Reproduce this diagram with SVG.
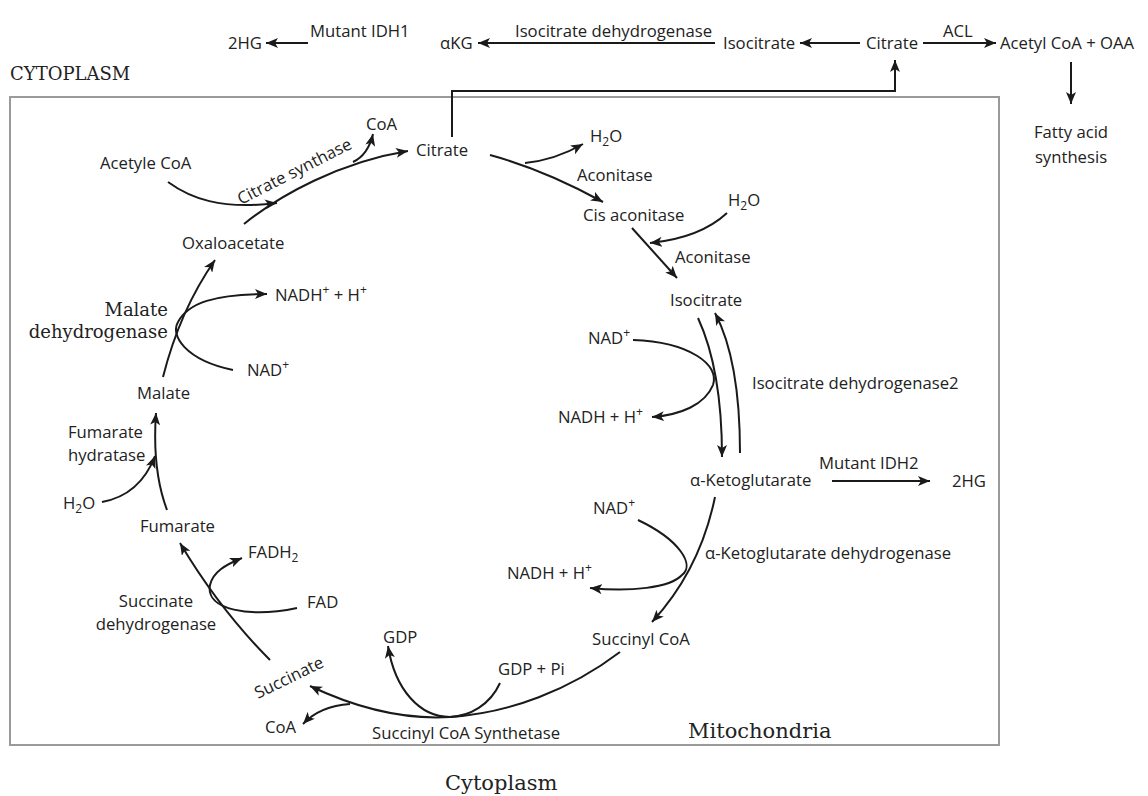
<svg xmlns="http://www.w3.org/2000/svg" width="1148" height="796" viewBox="0 0 1148 796">
  <style>
    .t { font-family: "Open Sans", "Liberation Sans", sans-serif; font-size: 16.7px; fill: #222; }
    .s { font-family: "DejaVu Serif", "Liberation Serif", serif; fill: #222; }
    .ln { fill: none; stroke: #1a1a1a; stroke-width: 2; }
    .arr { marker-end: url(#ah); }
    .sub { font-size: 12px; }
  </style>
  <defs>
    <marker id="ah" markerUnits="userSpaceOnUse" viewBox="0 0 12 10" refX="12" refY="5" markerWidth="12" markerHeight="10" orient="auto">
      <path d="M0,0 L12,5 L0,10 L3,5 z" fill="#1a1a1a"/>
    </marker>
  </defs>
  <rect width="1148" height="796" fill="#fff"/>

  <!-- mitochondrial compartment -->
  <rect id="mitochondria-box" x="10" y="97" width="989" height="648" fill="none" stroke="#9a9a9a" stroke-width="2"/>

  <!-- region labels -->
  <text class="s" x="10" y="80" font-size="18">CYTOPLASM</text>
  <text class="s" x="688" y="738" font-size="21">Mitochondria</text>
  <text class="s" x="445" y="790" font-size="21">Cytoplasm</text>

  <!-- connectors -->
  <g id="connectors">
    <path class="ln arr" d="M308,43 L266,43"/>
    <path class="ln arr" d="M715,43 L478,43"/>
    <path class="ln arr" d="M860,43 L800,43"/>
    <path class="ln arr" d="M923,43 L996,43"/>
    <path class="ln arr" d="M1071,62 L1071,104"/>
    <path class="ln arr" d="M452,137 L452,91 L895,91 L895,60"/>

    <!-- citrate synthase -->
    <path class="ln arr" d="M244,224 C280,195 340,162 408,151"/>
    <path class="ln arr" d="M168,182 C190,198 220,210 277,203"/>
    <path class="ln arr" d="M353,162 Q368,155 373,134"/>

    <!-- aconitase steps -->
    <path class="ln arr" d="M490,155 Q545,170 603,202"/>
    <path class="ln arr" d="M525,163 Q555,160 583,144"/>
    <path class="ln arr" d="M632,228 L677,278"/>
    <path class="ln arr" d="M727,213 Q700,238 650,243"/>

    <!-- isocitrate dehydrogenase -->
    <path class="ln arr" d="M698,318 Q722,370 722,457"/>
    <path class="ln arr" d="M740,453 Q740,360 715,313"/>
    <path class="ln arr" d="M633,340 C690,342 720,365 713,385 C705,405 680,415 652,417"/>

    <!-- mutant IDH2 -->
    <path class="ln arr" d="M832,481 L930,481"/>

    <!-- alpha-ketoglutarate dehydrogenase -->
    <path class="ln arr" d="M715,497 Q700,570 652,622"/>
    <path class="ln arr" d="M638,520 C680,540 695,565 682,575 C670,588 630,592 590,588"/>

    <!-- succinyl CoA synthetase -->
    <path class="ln arr" d="M620,652 C570,690 510,713 450,717 C400,720 350,705 310,686"/>
    <path class="ln arr" d="M500,683 C490,705 470,716 450,717 C420,717 395,690 388,646"/>
    <path class="ln arr" d="M350,704 Q320,706 303,724"/>

    <!-- succinate dehydrogenase -->
    <path class="ln arr" d="M270,660 Q220,610 180,543"/>
    <path class="ln arr" d="M297,608 C250,618 205,610 210,585 C213,572 225,565 242,558"/>

    <!-- fumarate hydratase -->
    <path class="ln arr" d="M167,510 Q152,470 156,413"/>
    <path class="ln arr" d="M102,502 Q140,495 155,456"/>

    <!-- malate dehydrogenase -->
    <path class="ln arr" d="M163,377 Q180,310 215,260"/>
    <path class="ln arr" d="M233,370 C185,360 170,335 178,322 C188,303 215,294 267,294"/>
  </g>

  <!-- cytoplasmic nodes -->
  <g id="n-2hg-top"><text class="t" x="228" y="49">2HG</text></g>
  <g id="l-mutant-idh1"><text class="t" x="310" y="37">Mutant IDH1</text></g>
  <g id="n-akg-top"><text class="t" x="440" y="49">αKG</text></g>
  <g id="l-idh-top"><text class="t" x="515" y="37">Isocitrate dehydrogenase</text></g>
  <g id="n-isocitrate-top"><text class="t" x="723" y="49">Isocitrate</text></g>
  <g id="n-citrate-top"><text class="t" x="866" y="49">Citrate</text></g>
  <g id="l-acl"><text class="t" x="943" y="37">ACL</text></g>
  <g id="n-acetylcoa-oaa"><text class="t" x="1000" y="49">Acetyl CoA + OAA</text></g>
  <g id="n-fatty-acid"><text class="t" x="1071" y="138" text-anchor="middle">Fatty acid</text><text class="t" x="1071" y="163" text-anchor="middle">synthesis</text></g>

  <!-- mitochondrial nodes -->
  <g id="n-coa-1"><text class="t" x="366" y="130">CoA</text></g>
  <g id="n-citrate"><text class="t" x="416" y="156">Citrate</text></g>
  <g id="n-acetyle-coa"><text class="t" x="100" y="169">Acetyle CoA</text></g>
  <g id="l-citrate-synthase"><text class="t" transform="translate(241,205) rotate(-27)">Citrate synthase</text></g>
  <g id="n-oxaloacetate"><text class="t" x="182" y="249">Oxaloacetate</text></g>
  <g id="n-nadh-h-1"><text class="t" x="275" y="301">NADH<tspan class="sub" dy="-7">+</tspan><tspan dy="7"> + H</tspan><tspan class="sub" dy="-7">+</tspan></text></g>
  <g id="l-malate-dh"><text class="s" x="168" y="316" font-size="18" text-anchor="end">Malate</text><text class="s" x="168" y="338" font-size="18" text-anchor="end">dehydrogenase</text></g>
  <g id="n-nad-1"><text class="t" x="247" y="376">NAD<tspan class="sub" dy="-7">+</tspan></text></g>
  <g id="n-malate"><text class="t" x="137" y="399">Malate</text></g>
  <g id="l-fumarate-hydratase"><text class="t" x="68" y="438">Fumarate</text><text class="t" x="68" y="461">hydratase</text></g>
  <g id="n-h2o-3"><text class="t" x="63" y="509">H<tspan class="sub" dy="4">2</tspan><tspan dy="-4">O</tspan></text></g>
  <g id="n-fumarate"><text class="t" x="140" y="532">Fumarate</text></g>
  <g id="n-fadh2"><text class="t" x="248" y="558">FADH<tspan class="sub" dy="4">2</tspan></text></g>
  <g id="n-fad"><text class="t" x="307" y="608">FAD</text></g>
  <g id="l-succinate-dh"><text class="t" x="156" y="607" text-anchor="middle">Succinate</text><text class="t" x="156" y="630" text-anchor="middle">dehydrogenase</text></g>
  <g id="n-succinate"><text class="t" transform="translate(258,699) rotate(-26)">Succinate</text></g>
  <g id="n-coa-2"><text class="t" x="265" y="733">CoA</text></g>
  <g id="n-gdp"><text class="t" x="383" y="643">GDP</text></g>
  <g id="n-gdp-pi"><text class="t" x="498" y="675">GDP + Pi</text></g>
  <g id="l-succinyl-coa-synthetase"><text class="t" x="372" y="739">Succinyl CoA Synthetase</text></g>
  <g id="n-succinyl-coa"><text class="t" x="592" y="645">Succinyl CoA</text></g>
  <g id="n-nadh-h-3"><text class="t" x="507" y="579">NADH + H<tspan class="sub" dy="-7">+</tspan></text></g>
  <g id="n-nad-3"><text class="t" x="593" y="514">NAD<tspan class="sub" dy="-7">+</tspan></text></g>
  <g id="l-akg-dh"><text class="t" x="705" y="559">α-Ketoglutarate dehydrogenase</text></g>
  <g id="n-akg"><text class="t" x="690" y="486">α-Ketoglutarate</text></g>
  <g id="l-mutant-idh2"><text class="t" x="819" y="469">Mutant IDH2</text></g>
  <g id="n-2hg"><text class="t" x="952" y="487">2HG</text></g>
  <g id="l-idh2"><text class="t" x="752" y="389">Isocitrate dehydrogenase2</text></g>
  <g id="n-nadh-h-2"><text class="t" x="558" y="423">NADH + H<tspan class="sub" dy="-7">+</tspan></text></g>
  <g id="n-nad-2"><text class="t" x="588" y="344">NAD<tspan class="sub" dy="-7">+</tspan></text></g>
  <g id="n-isocitrate"><text class="t" x="670" y="306">Isocitrate</text></g>
  <g id="l-aconitase-2"><text class="t" x="675" y="263">Aconitase</text></g>
  <g id="n-h2o-2"><text class="t" x="728" y="206">H<tspan class="sub" dy="4">2</tspan><tspan dy="-4">O</tspan></text></g>
  <g id="n-cis-aconitase"><text class="t" x="583" y="221">Cis aconitase</text></g>
  <g id="l-aconitase-1"><text class="t" x="577" y="181">Aconitase</text></g>
  <g id="n-h2o-1"><text class="t" x="590" y="142">H<tspan class="sub" dy="4">2</tspan><tspan dy="-4">O</tspan></text></g>
</svg>
